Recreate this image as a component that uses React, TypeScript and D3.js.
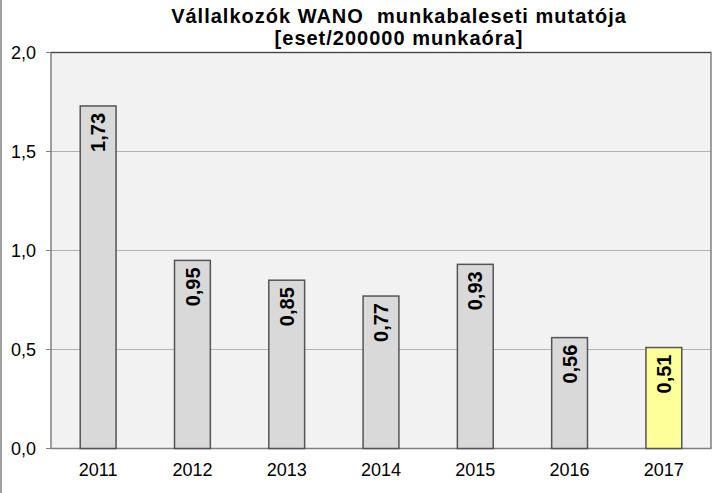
import React from "react";
import * as d3 from "d3";

const years = ["2011", "2012", "2013", "2014", "2015", "2016", "2017"];
const values = [1.73, 0.95, 0.85, 0.77, 0.93, 0.56, 0.51];
const yTicks = [0, 0.5, 1.0, 1.5, 2.0];
const titleLines = ["Vállalkozók WANO\u00a0 munkabaleseti mutatója", "[eset/200000 munkaóra]"];

const W = 725;
const H = 493;
const plot = { left: 51, right: 711, top: 52.5, bottom: 448.5 };
const font = "'Liberation Sans', Arial, sans-serif";

const fmt = (v: number, d: number) => v.toFixed(d).replace(".", ",");

export default function App() {
  const x = d3.scaleBand().domain(years).range([plot.left, plot.right]).paddingInner(0.62).paddingOuter(0.31);
  const y = d3.scaleLinear().domain([0, 2]).range([plot.bottom, plot.top]);
  return (
    <svg width={W} height={H} style={{ position: "absolute", left: 0, top: 0, background: "#fff" }}>
      <line x1={1} x2={1} y1={0} y2={H} stroke="#7f7f7f" strokeWidth={1.5} />
      <rect x={plot.left} y={plot.top} width={plot.right - plot.left} height={plot.bottom - plot.top} fill="#f2f2f2" />
      {yTicks.slice(1, -1).map((t) => (
        <line key={t} x1={plot.left} x2={plot.right} y1={y(t)} y2={y(t)} stroke="#b3b3b3" strokeWidth={1} />
      ))}
      <rect x={plot.left} y={plot.top} width={plot.right - plot.left} height={plot.bottom - plot.top} fill="none" stroke="#808080" strokeWidth={1.5} />
      <line x1={plot.left} x2={plot.right} y1={plot.top} y2={plot.top} stroke="#404040" strokeWidth={1} />
      {yTicks.map((t) => (
        <g key={t}>
          <line x1={plot.left - 5} x2={plot.left} y1={y(t)} y2={y(t)} stroke="#808080" strokeWidth={1} />
          <text x={36} y={y(t)} dy="0.35em" textAnchor="end" fontFamily={font} fontSize={18} fill="#000">
            {fmt(t, 1)}
          </text>
        </g>
      ))}
      {years.map((yr, i) => {
        const bx = x(yr)!;
        const bw = x.bandwidth();
        const top = y(values[i]);
        const cx = bx + bw / 2;
        return (
          <g key={yr}>
            <rect
              x={bx}
              y={top}
              width={bw}
              height={plot.bottom - top}
              fill={i === years.length - 1 ? "#ffff99" : "#d9d9d9"}
              stroke="#555"
              strokeWidth={1.5}
            />
            <text
              transform={`translate(${cx},${top + 7}) rotate(-90)`}
              dy="0.36em"
              textAnchor="end"
              fontFamily={font}
              fontWeight="bold"
              fontSize={20}
              fill="#000"
            >
              {fmt(values[i], 2)}
            </text>
            <text x={cx} y={476} textAnchor="middle" fontFamily={font} fontSize={18} fill="#000">
              {yr}
            </text>
          </g>
        );
      })}
      {titleLines.map((l, i) => (
        <text key={i} x={399} y={23 + i * 22} textAnchor="middle" fontFamily={font} fontWeight="bold" fontSize={20} letterSpacing={1} fill="#000">
          {l}
        </text>
      ))}
    </svg>
  );
}
